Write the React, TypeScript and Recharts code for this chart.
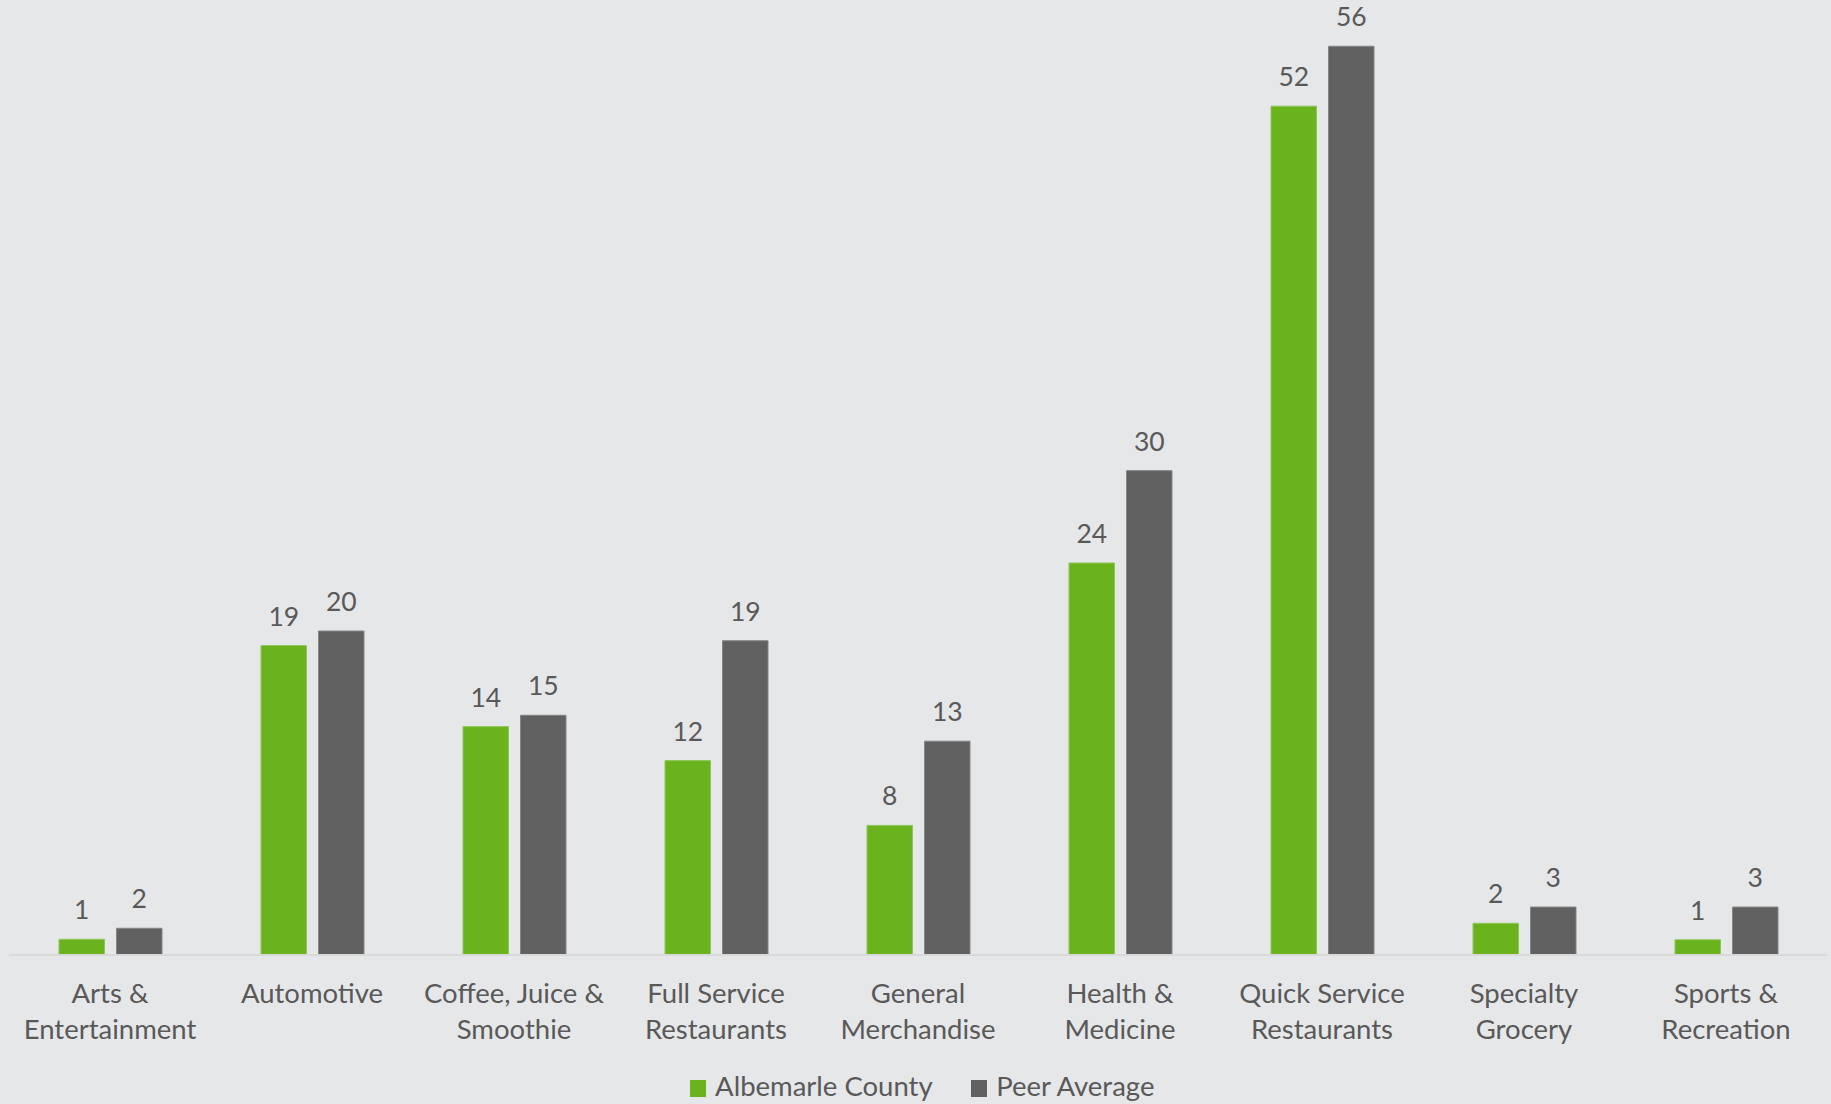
import { Bar, BarChart, LabelList, Legend, XAxis, YAxis } from "recharts";

const categories = [
  "Arts &\nEntertainment",
  "Automotive",
  "Coffee, Juice &\nSmoothie",
  "Full Service\nRestaurants",
  "General\nMerchandise",
  "Health &\nMedicine",
  "Quick Service\nRestaurants",
  "Specialty\nGrocery",
  "Sports &\nRecreation",
];
const albemarleCounty = [0.97, 19.1, 14.1, 12.0, 8.0, 24.2, 52.4, 1.96, 0.94];
const peerAverage = [1.65, 20.0, 14.8, 19.4, 13.2, 29.9, 56.1, 2.96, 2.96];

const seriesNames = ["Albemarle County", "Peer Average"];
const GREEN = "#6AB31C";
const GREY = "#616161";
const TEXT = "#595959";
const FONT = "Lato, 'Open Sans', sans-serif";

const rows = categories.map((name, i) => ({
  name,
  albemarle: albemarleCounty[i],
  peer: peerAverage[i],
}));

function CategoryTick(props: any) {
  const { x, y, payload } = props;
  const lines = String(payload.value).split("\n");
  return (
    <text x={x} y={y} textAnchor="middle" fill={TEXT} fontSize={27.5} fontFamily={FONT}>
      {lines.map((line, i) => (
        <tspan key={i} x={x} dy={i === 0 ? 48 : 36}>
          {line}
        </tspan>
      ))}
    </text>
  );
}

function LegendRow() {
  const colors = [GREEN, GREY];
  return (
    <div
      style={{
        display: "flex",
        justifyContent: "center",
        alignItems: "flex-start",
        paddingTop: 5,
        paddingLeft: 8,
        fontFamily: FONT,
        fontSize: 27.5,
        lineHeight: "33px",
        color: TEXT,
      }}
    >
      {seriesNames.map((s, i) => (
        <div key={s} style={{ display: "flex", alignItems: "flex-start", marginLeft: i ? 38 : 0 }}>
          <span
            style={{
              display: "inline-block",
              width: 16.5,
              height: 16.5,
              marginTop: 11,
              marginRight: 9,
              background: colors[i],
            }}
          />
          <span>{s}</span>
        </div>
      ))}
    </div>
  );
}

export default function App() {
  return (
    <div
      style={{
        position: "absolute",
        left: 0,
        top: 0,
        width: 1831,
        height: 1104,
        background: "#E6E7E9",
        overflow: "hidden",
      }}
    >
      <BarChart
        width={1831}
        height={1104}
        data={rows}
        margin={{ top: 20, right: 4, left: 9, bottom: 0 }}
        barGap={12}
      >
        <XAxis
          dataKey="name"
          interval={0}
          height={109}
          tickLine={false}
          tickSize={0}
          tickMargin={0}
          axisLine={{ stroke: "#D9D9D9", strokeWidth: 2 }}
          tick={<CategoryTick />}
        />
        <YAxis hide domain={[0, 57.72]} />
        <Legend
          verticalAlign="bottom"
          align="center"
          wrapperStyle={{ height: 40 }}
          content={() => <LegendRow />}
        />
        <Bar
          dataKey="albemarle"
          name={seriesNames[0]}
          fill={GREEN}
          stroke="#8FC65C"
          strokeWidth={1}
          barSize={45.5}
          isAnimationActive={false}
        >
          <LabelList
            dataKey="albemarle"
            position="top"
            offset={20}
            formatter={(v: any) => Math.round(Number(v))}
            fill={TEXT}
            fontSize={26.5}
            fontFamily={FONT}
          />
        </Bar>
        <Bar
          dataKey="peer"
          name={seriesNames[1]}
          fill={GREY}
          stroke="#858585"
          strokeWidth={1}
          barSize={45.5}
          isAnimationActive={false}
        >
          <LabelList
            dataKey="peer"
            position="top"
            offset={20}
            formatter={(v: any) => Math.round(Number(v))}
            fill={TEXT}
            fontSize={26.5}
            fontFamily={FONT}
          />
        </Bar>
      </BarChart>
    </div>
  );
}
